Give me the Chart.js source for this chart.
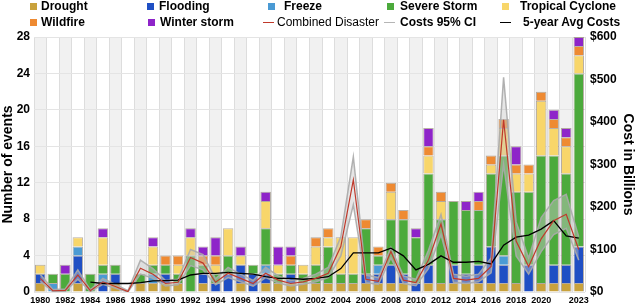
<!DOCTYPE html>
<html>
<head>
<meta charset="utf-8">
<script src="https://cdn.jsdelivr.net/npm/chart.js@4.4.1/dist/chart.umd.min.js"></script>
<style>
    html, body {margin: 0; padding: 0; background: #fff;}
    #wrap {position: relative; width: 636px; height: 306px;}
    #legend {position: absolute; left: 0; top: 0; width: 636px; height: 32px; font-family: "Liberation Sans", Arial, sans-serif; font-size: 12px; font-weight: bold; color: #000;}
    .txt {position: absolute; white-space: nowrap; line-height: 14px;}
    .box {position: absolute; width: 7px; height: 7px;}
    .ln {position: absolute; height: 0; border-top: 1.5px solid;}
</style>
</head>
<body>
<div id="wrap">
    <canvas id="myChart" width="636" height="306"></canvas>
    <div id="legend"></div>
</div>
<script>
const years = ['1980','1981','1982','1983','1984','1985','1986','1987','1988','1989',
    '1990','1991','1992','1993','1994','1995','1996','1997','1998','1999',
    '2000','2001','2002','2003','2004','2005','2006','2007','2008','2009',
    '2010','2011','2012','2013','2014','2015','2016','2017','2018','2019',
    '2020','2021','2022','2023'];
const shownYears = ['1980','1982','1984','1986','1988','1990','1992','1994','1996','1998','2000',
    '2002','2004','2006','2008','2010','2012','2014','2016','2018','2020','2023'];

// number of events per type
const drought = [1,0,0,1,0,0,1,0,1,1, 1,1,0,1,0,0,1,0,1,1, 1,1,1,1,1,1,1,1,1,1, 0,1,1,1,1,1,1,1,1,0, 1,1,1,1];
const flooding = [1,0,0,3,0,1,1,0,0,0, 1,0,0,1,1,2,2,2,1,0, 1,0,0,0,0,0,1,1,2,1, 1,2,0,2,1,2,4,2,0,3, 0,2,2,4];
const freeze = [0,1,0,1,0,1,0,0,0,1, 0,0,0,0,0,0,0,0,1,0, 0,0,0,0,0,0,0,1,0,0, 0,0,0,0,0,0,0,1,0,0, 0,0,0,0];
const severeStorm = [0,1,2,0,2,1,1,0,1,1, 1,1,4,1,1,2,0,1,4,1, 1,1,2,4,1,1,5,1,5,6, 5,10,7,7,7,6,8,11,10,8, 14,12,10,19];
const tropicalCyclone = [1,0,0,1,0,3,0,0,0,2, 0,1,2,0,1,3,1,0,3,1, 0,1,2,1,4,4,0,0,3,0, 0,2,2,0,0,0,1,3,2,2, 6,3,3,2];
const wildfire = [0,0,0,0,0,0,0,0,0,0, 1,1,0,1,1,0,0,0,0,0, 1,0,1,1,0,0,1,1,1,1, 0,1,1,0,0,1,1,1,1,1, 1,1,1,1];
const winterStorm = [0,0,1,0,0,1,0,0,0,1, 0,0,1,1,2,0,1,0,1,2, 1,0,0,0,0,0,0,0,0,0, 1,2,0,0,1,1,0,0,2,0, 0,1,1,1];

// costs, billions of dollars
const combinedCost = [32,3,4,40,3,24,13,1,56,42, 20,23,81,68,23,44,32,20,44,28,
    20,24,32,44,107,264,30,25,95,28, 22,75,160,32,28,32,60,405,120,60, 125,168,183,100];
const ciLow = [25,1,2,30,1,18,9,0,42,32, 14,17,62,52,17,34,24,14,34,21,
    14,18,24,34,85,205,22,18,80,20, 15,55,135,23,20,24,45,300,85,42, 95,135,150,75];
const ciHigh = [42,6,7,52,5,32,18,3,75,55, 27,30,100,88,31,58,42,27,58,38,
    27,32,42,58,130,318,40,34,105,38, 30,98,182,42,37,42,80,505,165,80, 175,215,230,130];
const avg5yr = [null,null,null,null,23,20,20,20,22,26, 27,28,40,44,44,46,44,42,36,32,
    32,30,32,36,55,92,92,92,103,85, 52,65,85,70,70,72,66,110,129,134, 148,168,132,127];

const colors = {
    drought: '#C9A23C',
    flooding: '#1F4FC4',
    freeze: '#4A9AD4',
    severe: '#4CAA3C',
    tropical: '#F8D66A',
    wildfire: '#EE8A32',
    winter: '#8E24C9'
};

const barSet = (label, data, color) => ({
    type: 'bar', label: label, data: data, backgroundColor: color,
    borderColor: 'rgba(100,80,60,0.45)', borderWidth: 1,
    barPercentage: 0.84, categoryPercentage: 1, yAxisID: 'y', order: 2
});

// alternating column shading
const bandPlugin = {
    id: 'bands',
    beforeDraw(chart) {
        const {ctx, chartArea, scales} = chart;
        const x = scales.x;
        const w = x.getPixelForValue(1) - x.getPixelForValue(0);
        ctx.save();
        ctx.fillStyle = '#f1f1f1';
        years.forEach((y, i) => {
            if (i % 2) return;
            const c = x.getPixelForValue(i);
            ctx.fillRect(c - w / 2, chartArea.top, w, chartArea.bottom - chartArea.top);
        });
        ctx.restore();
    }
};

const ctx = document.getElementById('myChart');
new Chart(ctx, {
    data: {
        labels: years,
        datasets: [
            barSet('Drought', drought, colors.drought),
            barSet('Flooding', flooding, colors.flooding),
            barSet('Freeze', freeze, colors.freeze),
            barSet('Severe Storm', severeStorm, colors.severe),
            barSet('Tropical Cyclone', tropicalCyclone, colors.tropical),
            barSet('Wildfire', wildfire, colors.wildfire),
            barSet('Winter storm', winterStorm, colors.winter),
            {
                type: 'line', label: 'CI low', data: ciLow, yAxisID: 'y1', order: 1,
                borderColor: 'rgba(170,170,170,0.9)', borderWidth: 1.5, pointRadius: 0, fill: false
            },
            {
                type: 'line', label: 'Costs 95% CI', data: ciHigh, yAxisID: 'y1', order: 1,
                borderColor: 'rgba(170,170,170,0.9)', borderWidth: 1.5, pointRadius: 0,
                fill: {target: '-1'}, backgroundColor: 'rgba(200,200,200,0.45)'
            },
            {
                type: 'line', label: 'Combined Disaster', data: combinedCost, yAxisID: 'y1', order: 0,
                borderColor: '#C0392B', borderWidth: 1.2, pointRadius: 0, fill: false
            },
            {
                type: 'line', label: '5-year Avg Costs', data: avg5yr, yAxisID: 'y1', order: 0,
                borderColor: '#000000', borderWidth: 1.3, pointRadius: 0, fill: false, spanGaps: false
            }
        ]
    },
    options: {
        responsive: false,
        animation: false,
        layout: {padding: {top: 37, bottom: 0, left: 0, right: 0}},
        plugins: {legend: {display: false}, tooltip: {enabled: false}},
        scales: {
            x: {
                stacked: true,
                offset: true,
                grid: {offset: true, color: '#dddddd', drawTicks: false},
                border: {display: false},
                ticks: {
                    autoSkip: false, maxRotation: 0, padding: 3, color: '#000',
                    font: {family: 'Liberation Sans', size: 9, weight: 'bold'},
                    callback: (v, i) => shownYears.includes(years[i]) ? years[i] : ''
                },
                afterFit: (s) => { s.height = 14; }
            },
            y: {
                stacked: true, min: 0, max: 28,
                grid: {color: '#e4e4e4', drawTicks: false},
                border: {display: false},
                ticks: {stepSize: 4, padding: 4, color: '#000', font: {family: 'Liberation Sans', size: 12, weight: 'bold'}},
                title: {display: true, text: 'Number of events', color: '#000', padding: 0,
                    font: {family: 'Liberation Sans', size: 14, weight: 'bold'}},
                afterFit: (s) => { s.width = 34; }
            },
            y1: {
                position: 'right', min: 0, max: 600,
                grid: {drawOnChartArea: false, drawTicks: false},
                border: {display: false},
                ticks: {stepSize: 100, padding: 5, color: '#000', callback: (v) => '$' + v,
                    font: {family: 'Liberation Sans', size: 12, weight: 'bold'}},
                title: {display: true, text: 'Cost in Billions', color: '#000', padding: 0,
                    font: {family: 'Liberation Sans', size: 14, weight: 'bold'}},
                afterFit: (s) => { s.width = 51; }
            }
        }
    },
    plugins: [bandPlugin]
});

// legend, two rows like the original
const legendItems = [
    {text: 'Drought', kind: 'box', color: colors.drought, mx: 30, tx: 41, row: 0},
    {text: 'Flooding', kind: 'box', color: colors.flooding, mx: 147, tx: 159, row: 0},
    {text: 'Freeze', kind: 'box', color: colors.freeze, mx: 268, tx: 284, row: 0},
    {text: 'Severe Storm', kind: 'box', color: colors.severe, mx: 387, tx: 400, row: 0},
    {text: 'Tropical Cyclone', kind: 'box', color: colors.tropical, mx: 502, tx: 520, row: 0},
    {text: 'Wildfire', kind: 'box', color: colors.wildfire, mx: 30, tx: 41, row: 1},
    {text: 'Winter storm', kind: 'box', color: colors.winter, mx: 148, tx: 160, row: 1},
    {text: 'Combined Disaster', kind: 'line', color: '#C0392B', mx: 263, tx: 277, row: 1, normal: true},
    {text: 'Costs 95% CI', kind: 'line', color: '#b5b5b5', mx: 384, tx: 400, row: 1},
    {text: '5-year Avg Costs', kind: 'line', color: '#000', mx: 500, tx: 523, row: 1}
];
const legendEl = document.getElementById('legend');
legendItems.forEach((item) => {
    const top = item.row === 0 ? -1 : 15;
    const m = document.createElement('div');
    if (item.kind === 'box') {
        m.className = 'box';
        m.style.left = item.mx + 'px';
        m.style.top = (top + 4) + 'px';
        m.style.background = item.color;
    } else {
        m.className = 'ln';
        m.style.left = item.mx + 'px';
        m.style.width = '11px';
        m.style.top = (top + 7) + 'px';
        m.style.borderTopColor = item.color;
    }
    legendEl.appendChild(m);
    const t = document.createElement('div');
    t.className = 'txt';
    t.style.left = item.tx + 'px';
    t.style.top = top + 'px';
    if (item.normal) t.style.fontWeight = 'normal';
    t.textContent = item.text;
    legendEl.appendChild(t);
});
</script>
</body>
</html>
